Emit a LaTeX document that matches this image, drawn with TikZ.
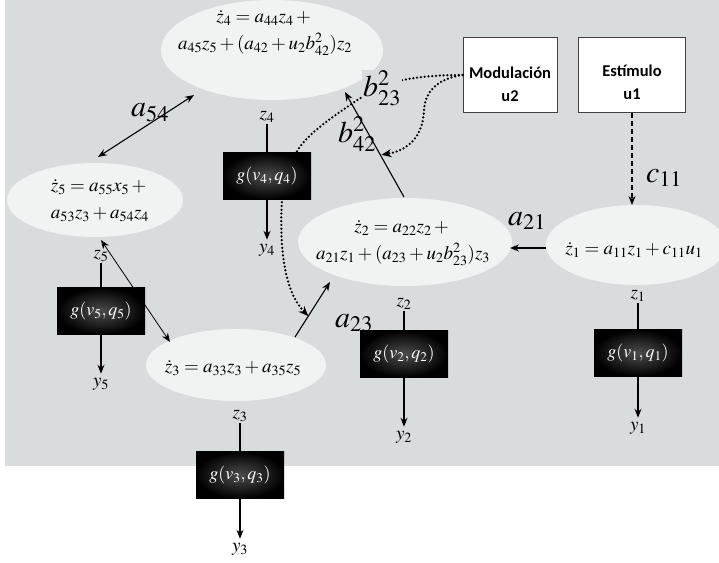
\documentclass[tikz,border=0pt]{standalone}
\usepackage{mathptmx}
\usepackage[no-math]{fontspec}
\newfontfamily\boxfont{Carlito}
\usetikzlibrary{arrows.meta,shapes.geometric,calc}
\definecolor{bggray}{RGB}{216,220,221}
\definecolor{ellfill}{RGB}{241,243,243}
\begin{document}
\begin{tikzpicture}[x=1pt,y=-1pt,
  ell/.style={ellipse,fill=ellfill,draw=none,inner sep=0pt},
  eq/.style={align=center,font=\fontsize{19}{27}\selectfont,inner sep=0pt},
  gbox/.style={rectangle,inner color=black!70,outer color=black,minimum width=88pt,minimum height=47pt,text=white,font=\fontsize{18}{20}\selectfont,inner sep=0pt},
  ubox/.style={rectangle,draw=black!75,line width=0.8pt,fill=white,inner sep=0pt},
  utext/.style={align=center,font=\boxfont\bfseries\fontsize{16.5}{23}\selectfont,inner sep=0pt},
  var/.style={font=\fontsize{19}{20}\selectfont,inner sep=1pt},
  wlab/.style={font=\fontsize{30}{30}\selectfont,inner sep=0pt},
  tip/.tip={Stealth[length=9pt,width=7pt]},
  arr/.style={line width=1.1pt,-tip},
  barr/.style={line width=1.1pt,tip-tip},
  ln/.style={line width=1.1pt},
  dots/.style={line width=2.5pt,dash pattern=on 0pt off 3.8pt,line cap=round,-{Stealth[length=10pt,width=8pt]}}
]
\useasboundingbox (0,0) rectangle (719,562);
\fill[bggray] (5,0) rectangle (719,466);

% ellipses and equations
\node[ell,minimum width=222pt,minimum height=100pt] (e4) at (272,50) {};
\node[eq] (t4) at (265,33) {$\dot z_4 = a_{44}z_4 +{}$\\$a_{45}z_5+(a_{42}+u_2b^2_{42})z_2$};
\node[ell,minimum width=176pt,minimum height=74pt] (e5) at (95,200) {};
\node[eq] (t5) at (100,201) {$\dot z_5 = a_{55}x_5 +{}$\\$a_{53}z_3+a_{54}z_4$};
\node[ell,minimum width=180pt,minimum height=72pt] (e3) at (236,365) {};
\node[eq] (t3) at (233,368) {$\dot z_3 = a_{33}z_3+a_{35}z_5$};
\node[ell,minimum width=214pt,minimum height=88pt] (e2) at (405,242) {};
\node[eq] (t2) at (403,243) {$\dot z_2 = a_{22}z_2 +{}$\\$a_{21}z_1+(a_{23}+u_2b^2_{23})z_3$};
\node[ell,minimum width=180pt,minimum height=80pt] (e1) at (636,245) {};
\node[eq] (t1) at (634,250) {$\dot z_1 = a_{11}z_1+c_{11}u_1$};

% input boxes
\node[ubox,minimum width=94pt,minimum height=75pt] (mod) at (510,75) {};
\node[utext] (modt) at (510,84) {Modulación\\u2};
\node[ubox,minimum width=107pt,minimum height=75pt] (est) at (632,75) {};
\node[utext] (estt) at (632,82) {Estímulo\\u1};

% connectors between states
\draw[barr] ([shift={(3,-43)}]e5.center) -- ([shift={(-78,45)}]e4.center);
\draw[barr,line width=0.8pt] ([shift={(6,40)}]e5.center) -- ([shift={(-66,-23)}]e3.center);
\draw[arr] ([shift={(59,-28)}]e3.center) coordinate (a23s) -- ([shift={(-75,40)}]e2.center) coordinate (a23e);
\draw[arr] ([shift={(-1,-45)}]e2.center) coordinate (b42s) -- ([shift={(73,42)}]e4.center) coordinate (b42e);
\draw[arr] ([shift={(-90,3)}]e1.center) -- ([shift={(105,6)}]e2.center);
\draw[line width=1.1pt,dash pattern=on 5pt off 3pt,-tip] (est.south) -- ([shift={(-4,-40)}]e1.center);

\coordinate (a23m) at ($(a23s)!0.38!(a23e)$);
\coordinate (b42m) at ($(b42s)!0.40!(b42e)$);

% modulation (dotted) curves
\draw[dots] (mod.west) .. controls (420,75) and (385,80) .. (362,97)
  .. controls (335,115) and (305,135) .. (296,153) -- (282,199)
  .. controls (279,250) and (285,292) .. (a23m);
\draw[dots,shorten >=1pt] (mod.west) .. controls (440,78) and (425,90) .. (424,110)
  .. controls (423,135) and (410,150) .. (b42m);

% weight labels
\node[wlab] (la54) at (150,113) {$a_{54}$};
\node[wlab,fill=bggray,inner sep=1pt] (lb23) at (382,88) {$b^2_{23}$};
\node[wlab] (lb42) at (357,134) {$b^2_{42}$};
\node[wlab] (la21) at (527,221) {$a_{21}$};
\node[wlab] (la23) at (354,323) {$a_{23}$};
\node[wlab] (lc11) at (664,178) {$c_{11}$};

% observation blocks
\node[gbox] (g4) at (267,176) {$g(v_4,q_4)$};
\node[var] (z4) at (267,117) {$z_4$};
\node[var] (y4) at (267,250) {$y_4$};
\node[gbox] (g5) at (101,311) {$g(v_5,q_5)$};
\node[var] (z5) at (101,256) {$z_5$};
\node[var] (y5) at (101,384) {$y_5$};
\node[gbox] (g3) at (240,475) {$g(v_3,q_3)$};
\node[var] (z3) at (240,416) {$z_3$};
\node[var] (y3) at (240,549) {$y_3$};
\node[gbox] (g2) at (404,354) {$g(v_2,q_2)$};
\node[var] (z2) at (404,304) {$z_2$};
\node[var] (y2) at (404,437) {$y_2$};
\node[gbox] (g1) at (638,353) {$g(v_1,q_1)$};
\node[var] (z1) at (638,296) {$z_1$};
\node[var] (y1) at (638,428) {$y_1$};

\foreach \i in {1,...,5}{
  \draw[ln] (z\i) -- (g\i);
  \draw[arr,shorten >=3pt] (g\i) -- (y\i);
}
\end{tikzpicture}
\end{document}
